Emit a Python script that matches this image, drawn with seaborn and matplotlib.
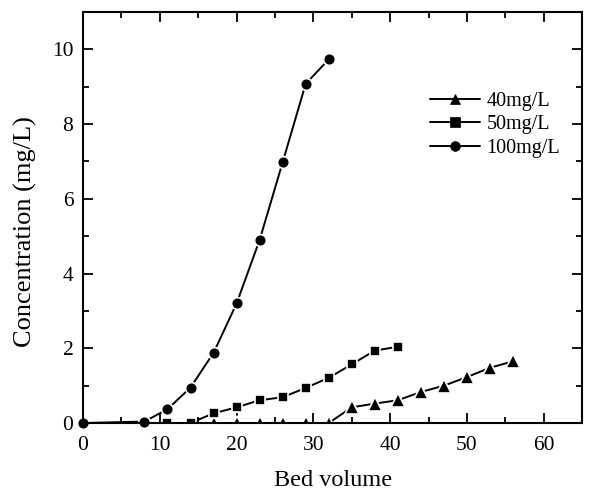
import numpy as np
import pandas as pd
import matplotlib
matplotlib.use("Agg")
import matplotlib.pyplot as plt
import seaborn as sns
from matplotlib.ticker import MultipleLocator

# Data
bv_100 = [0, 8, 11, 14, 17, 20, 23, 26, 29, 32]
c_100 = [0, 0.04, 0.37, 0.95, 1.88, 3.2, 4.9, 6.98, 9.08, 9.73]
bv_50 = [11, 14, 17, 20, 23, 26, 29, 32, 35, 38, 41]
c_50 = [0, 0, 0.26, 0.42, 0.61, 0.69, 0.94, 1.21, 1.57, 1.94, 2.04]
bv_40 = [17, 20, 23, 26, 29, 32, 35, 38, 41, 44, 47, 50, 53, 56]
c_40 = [0, 0, 0, 0, 0, 0, 0.42, 0.52, 0.61, 0.83, 1.0, 1.23, 1.48, 1.65]
labels = ["40mg/L", "50mg/L", "100mg/L"]

df = pd.concat([
    pd.DataFrame({"Bed volume": bv_40, "Concentration": c_40, "series": labels[0]}),
    pd.DataFrame({"Bed volume": bv_50, "Concentration": c_50, "series": labels[1]}),
    pd.DataFrame({"Bed volume": bv_100, "Concentration": c_100, "series": labels[2]}),
], ignore_index=True)

sns.set_style("ticks")
plt.rcParams['font.family'] = ['Liberation Serif', 'DejaVu Serif']
plt.rcParams['text.color'] = 'black'
plt.rcParams['axes.labelcolor'] = 'black'
plt.rcParams['xtick.color'] = 'black'
plt.rcParams['ytick.color'] = 'black'

fig = plt.figure(figsize=(5.91, 4.92), dpi=100)
ax = fig.add_axes([0.1405, 0.1402, 0.8445, 0.8354])

marker_map = {"40mg/L": "^", "50mg/L": "s", "100mg/L": "o"}
sns.lineplot(data=df, x="Bed volume", y="Concentration", hue="series", style="series",
             hue_order=labels, style_order=labels,
             palette=["black"] * 3, markers=marker_map,
             dashes=False, markersize=8, markeredgecolor="white", markeredgewidth=1.2,
             linewidth=1.4, sort=False, estimator=None, ax=ax, legend=True)

size_map = {"^": 10, "s": 7.5, "o": 8.5}
for ln in ax.lines:
    m = ln.get_marker()
    if m in size_map:
        ln.set_markersize(size_map[m])
    ln.set_clip_on(m != "o")

ax.set_xlim(0, 65)
ax.set_ylim(0, 11)
ax.xaxis.set_major_locator(MultipleLocator(10))
ax.xaxis.set_minor_locator(MultipleLocator(5))
ax.yaxis.set_major_locator(MultipleLocator(2))
ax.yaxis.set_minor_locator(MultipleLocator(1))
ax.tick_params(which="both", direction="in", top=True, right=True, labeltop=False, labelright=False,
               width=1.3, colors="black", labelsize=15.5)
ax.tick_params(which="major", length=7)
ax.tick_params(axis="x", which="major", pad=9)
ax.tick_params(axis="y", which="major", pad=7)
ax.tick_params(which="minor", length=4)
for sp in ax.spines.values():
    sp.set_linewidth(1.5)
    sp.set_color("black")

ax.set_xlabel("Bed volume", fontsize=17.5, labelpad=11)
ax.set_ylabel("Concentration (mg/L)", fontsize=19)
ax.yaxis.set_label_coords(-0.092, 0.467)

leg = ax.legend(loc="upper left", bbox_to_anchor=(0.667, 0.84), frameon=False, fontsize=14.5,
                handlelength=2.5, handletextpad=0.3, labelspacing=0.22, borderpad=0.2)
for h in leg.legend_handles:
    h.set_markeredgecolor("black")
    h.set_markeredgewidth(0.5)
    h.set_markersize(7)

fig.savefig("out.png", dpi=100)
